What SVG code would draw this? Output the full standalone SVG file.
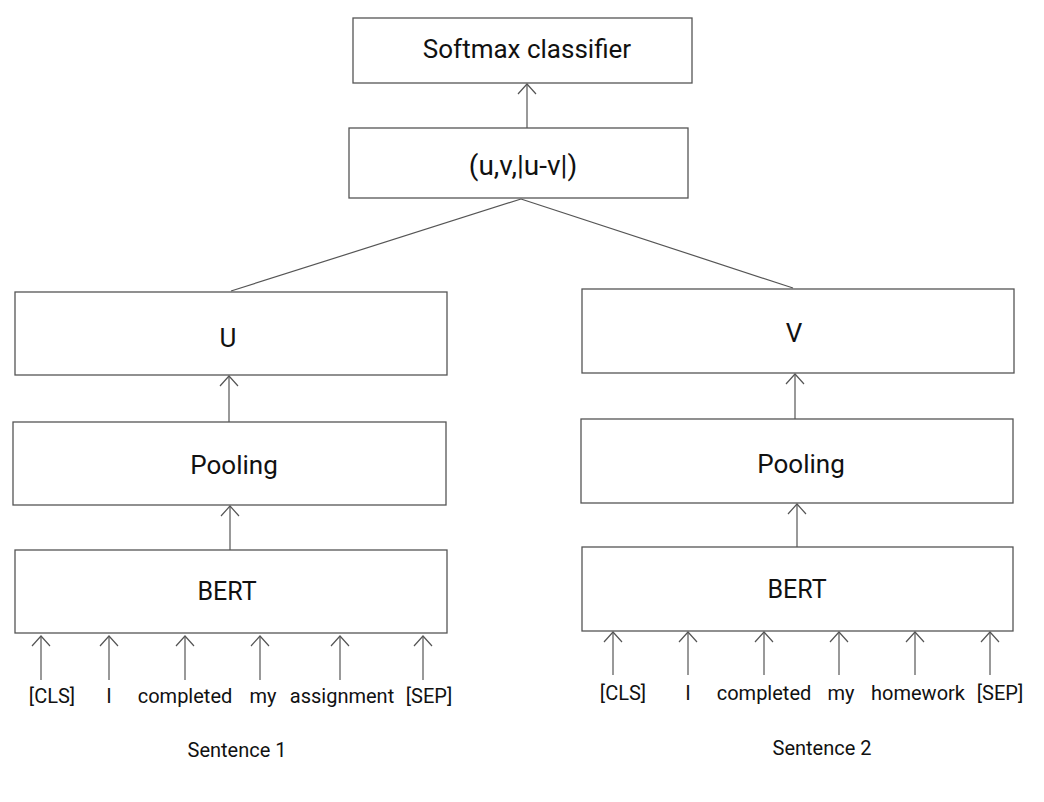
<svg xmlns="http://www.w3.org/2000/svg" width="1044" height="802" viewBox="0 0 1044 802">
<style>
.box{fill:#fff;stroke:#555;stroke-width:1.3}
.lbl{font-family:Roboto,"Liberation Sans",sans-serif;font-size:25px;fill:#111;text-anchor:middle}
.tok{font-family:Roboto,"Liberation Sans",sans-serif;font-size:20px;fill:#111;text-anchor:middle}
.con{stroke:#555;stroke-width:1.2;fill:none}
.arr{stroke:#555;stroke-width:1.2;fill:none;marker-end:url(#chev)}
</style>
<defs>
<marker id="chev" markerUnits="userSpaceOnUse" markerWidth="24" markerHeight="24" viewBox="-12 -12 24 24" refX="0" refY="0" orient="auto">
<path d="M-10,-9 L0,0 L-10,9" fill="none" stroke="#555" stroke-width="1.2"/>
</marker>
</defs>
<rect width="1044" height="802" fill="#fff"/>
<g id="softmax"><rect class="box" x="353" y="18" width="339" height="65"/><text class="lbl" x="527" y="58" style="font-size:26px">Softmax classifier</text></g>
<g id="concat"><rect class="box" x="349" y="128" width="339" height="70"/><text class="lbl" x="523" y="175" style="font-size:28px">(u,v,|u-v|)</text></g>
<g id="u"><rect class="box" x="15" y="292" width="432" height="83"/><text class="lbl" x="228" y="347" style="font-size:26px">U</text></g>
<g id="pool1"><rect class="box" x="13" y="422" width="433" height="83"/><text class="lbl" x="234" y="474" style="font-size:26px">Pooling</text></g>
<g id="bert1"><rect class="box" x="15" y="550" width="432" height="83"/><text class="lbl" x="227" y="600">BERT</text></g>
<g id="v"><rect class="box" x="582" y="289" width="432" height="84"/><text class="lbl" x="794" y="342" style="font-size:26px">V</text></g>
<g id="pool2"><rect class="box" x="581" y="419" width="432" height="84"/><text class="lbl" x="801" y="473" style="font-size:26px">Pooling</text></g>
<g id="bert2"><rect class="box" x="582" y="547" width="431" height="84"/><text class="lbl" x="797" y="598">BERT</text></g>
<g id="tokens1">
<text class="tok" x="52" y="703">[CLS]</text>
<text class="tok" x="109" y="703">I</text>
<text class="tok" x="185" y="703">completed</text>
<text class="tok" x="263" y="703">my</text>
<text class="tok" x="342" y="703">assignment</text>
<text class="tok" x="429" y="703">[SEP]</text>
<text class="tok" x="237" y="757">Sentence 1</text>
</g>
<g id="tokens2">
<text class="tok" x="623" y="700">[CLS]</text>
<text class="tok" x="688" y="700">I</text>
<text class="tok" x="764" y="700">completed</text>
<text class="tok" x="841" y="700">my</text>
<text class="tok" x="918" y="700">homework</text>
<text class="tok" x="1000" y="700">[SEP]</text>
<text class="tok" x="822" y="755">Sentence 2</text>
</g>
<g id="connectors">
<line class="arr" x1="527" y1="128" x2="527" y2="84"/>
<line class="con" x1="521" y1="199" x2="231" y2="291"/>
<line class="con" x1="521" y1="199" x2="793" y2="288"/>
<line class="arr" x1="229" y1="422" x2="229" y2="376"/>
<line class="arr" x1="230" y1="550" x2="230" y2="506"/>
<line class="arr" x1="795" y1="419" x2="795" y2="374"/>
<line class="arr" x1="797" y1="547" x2="797" y2="504"/>
<line class="arr" x1="41" y1="680" x2="41" y2="636"/>
<line class="arr" x1="109" y1="680" x2="109" y2="636"/>
<line class="arr" x1="185" y1="680" x2="185" y2="636"/>
<line class="arr" x1="260" y1="680" x2="260" y2="636"/>
<line class="arr" x1="340" y1="680" x2="340" y2="636"/>
<line class="arr" x1="423" y1="680" x2="423" y2="636"/>
<line class="arr" x1="613" y1="675" x2="613" y2="632"/>
<line class="arr" x1="688" y1="675" x2="688" y2="632"/>
<line class="arr" x1="764" y1="675" x2="764" y2="632"/>
<line class="arr" x1="839" y1="675" x2="839" y2="632"/>
<line class="arr" x1="915" y1="675" x2="915" y2="632"/>
<line class="arr" x1="990" y1="675" x2="990" y2="632"/>
</g>
</svg>
